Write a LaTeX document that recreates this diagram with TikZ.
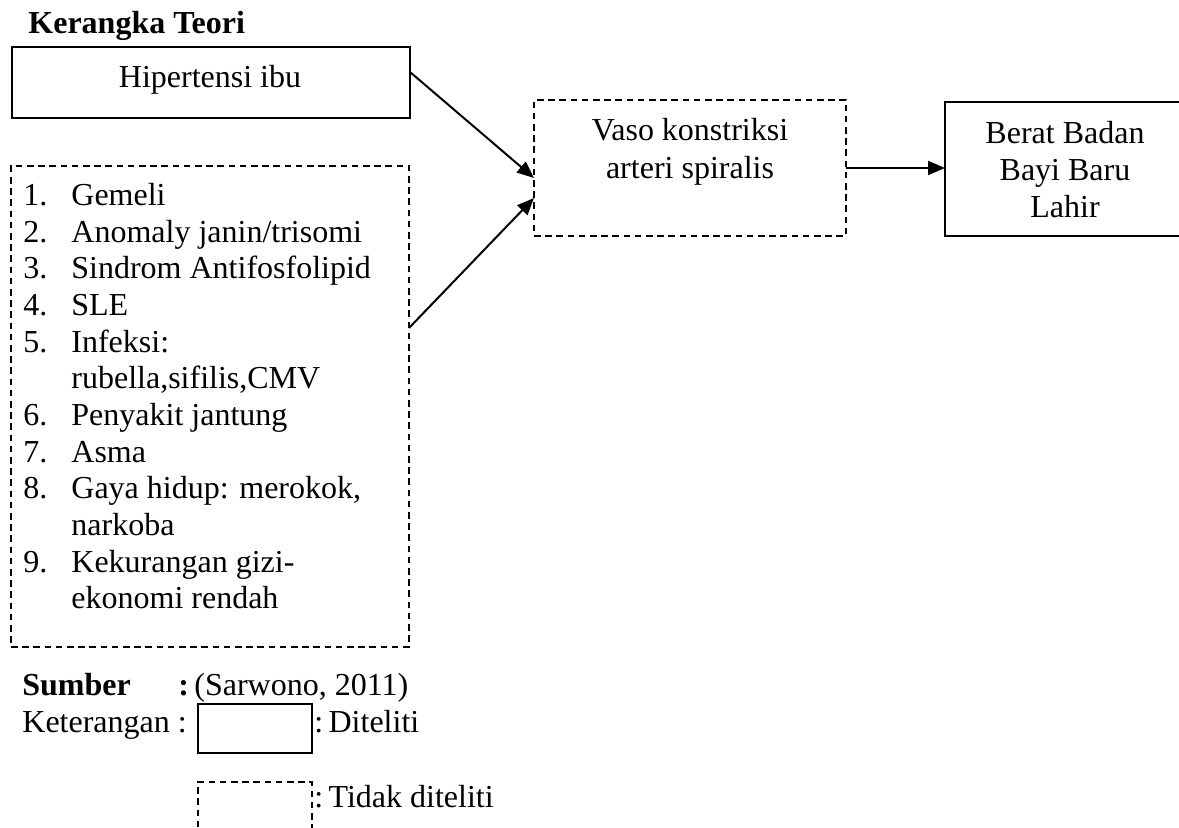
\documentclass[tikz,border=0pt]{standalone}
\usepackage{fontspec}
\setmainfont{Liberation Serif}
\usetikzlibrary{arrows.meta,calc}
\begin{document}
\begin{tikzpicture}[x=0.5pt,y=-0.5pt,
  every node/.style={font=\fontsize{16}{18.35}\selectfont},
  txt/.style={inner sep=0pt,anchor=base west},
  ctxt/.style={inner sep=0pt,anchor=base},
  solidbox/.style={draw,line width=0.8pt,inner sep=0pt,outer sep=0pt},
  dashbox/.style={draw,line width=0.8pt,dash pattern=on 3.3pt off 2.3pt,inner sep=0pt,outer sep=0pt},
  conn/.style={line width=1pt,-{Triangle[length=8.5pt,width=7pt]}}]
\useasboundingbox (0,0) rectangle (1179,827);
% title
\node[txt,font=\fontsize{16}{18.35}\selectfont\bfseries] (title) at (28,33) {Kerangka Teori};
% boxes
\node[solidbox,minimum width=199pt,minimum height=35.5pt] (hip) at (211,82.5) {};
\node[dashbox,minimum width=199pt,minimum height=240.5pt] (list) at (210,406.5) {};
\node[dashbox,minimum width=156pt,minimum height=68pt] (vaso) at (690,168) {};
\node[solidbox,minimum width=120pt,minimum height=67pt] (berat) at (1065,169) {};
% box texts
\node[ctxt] (hipt) at (210,87) {Hipertensi ibu};
\node[ctxt] (vaso1) at (690,140) {Vaso konstriksi};
\node[ctxt] (vaso2) at (690,178) {arteri spiralis};
\node[ctxt] (ber1) at (1065,143) {Berat Badan};
\node[ctxt] (ber2) at (1065,180) {Bayi Baru};
\node[ctxt] (ber3) at (1065,217) {Lahir};
% list
\node[txt] (n1) at (23,205) {1.}; \node[txt] (t1) at (71,205) {Gemeli};
\node[txt] (n2) at (23,242) {2.}; \node[txt] (t2) at (71,242) {Anomaly janin/trisomi};
\node[txt] (n3) at (23,278) {3.}; \node[txt] (t3) at (71,278) {Sindrom Antifosfolipid};
\node[txt] (n4) at (23,315) {4.}; \node[txt] (t4) at (71,315) {SLE};
\node[txt] (n5) at (23,352) {5.}; \node[txt] (t5) at (71,352) {Infeksi:};
\node[txt] (t5b) at (71,388) {rubella,sifilis,CMV};
\node[txt] (n6) at (23,425) {6.}; \node[txt] (t6) at (71,425) {Penyakit jantung};
\node[txt] (n7) at (23,462) {7.}; \node[txt] (t7) at (71,462) {Asma};
\node[txt] (n8) at (23,498) {8.}; \node[txt] (t8) at (71,498) {Gaya hidup: merokok,};
\node[txt] (t8b) at (71,535) {narkoba};
\node[txt] (n9) at (23,572) {9.}; \node[txt] (t9) at (71,572) {Kekurangan gizi-};
\node[txt] (t9b) at (71,608) {ekonomi rendah};
% connectors
\coordinate (a1s) at ($(hip.north east)+(0,25)$);
\coordinate (a2s) at ($(list.east)+(0,-78.5)$);
\draw[conn] (a1s) -- ($(vaso.west)+(0,10)$);
\draw[conn] (a2s) -- ($(vaso.west)+(0,30)$);
\draw[conn] (vaso.east) -- (vaso.east -| berat.west);
% source and legend
\node[txt,font=\fontsize{16}{18.35}\selectfont\bfseries] (sumber) at (22,695) {Sumber};
\node[txt,font=\fontsize{16}{18.35}\selectfont\bfseries] (scolon) at (178,695) {:};
\node[txt] (sref) at (194,695) {(Sarwono, 2011)};
\node[txt] (ket) at (22,732) {Keterangan :};
\node[solidbox,minimum width=57pt,minimum height=24.5pt] (lsolid) at (255,728.5) {};
\node[txt] (ldit) at (314,732) {:\,Diteliti};
\node[dashbox,minimum width=57pt,minimum height=29pt] (ldash) at (255,811) {};
\node[txt] (ltdk) at (314,807) {:\,Tidak diteliti};
\end{tikzpicture}
\end{document}
